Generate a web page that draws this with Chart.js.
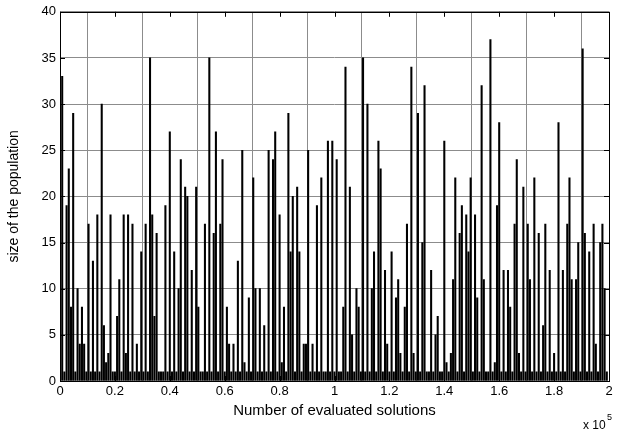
<!DOCTYPE html>
<html>
<head>
<meta charset="utf-8">
<script src="https://cdn.jsdelivr.net/npm/chart.js@4/dist/chart.umd.min.js"></script>
<style>
  html, body { margin: 0; padding: 0; background: #fff; }
  #wrap { width: 622px; height: 433px; }
</style>
</head>
<body>
<div id="wrap"><canvas id="popChart" width="622" height="433"></canvas></div>
<script>
// --- data: population size sampled every EVAL_STEP evaluations ---
const EVAL_STEP = 800;
const popSize = [
  1,33,1,19,23,8,29,1,10,4,8,4,1,17,1,13,1,18,1,30,6,2,3,18,1,
  1,7,11,1,18,3,18,1,17,1,4,1,14,1,17,1,35,18,7,16,1,1,1,19,1,
  27,1,14,1,10,24,1,21,20,1,12,1,21,8,1,1,17,1,35,1,16,27,1,17,24,
  1,8,4,1,4,1,13,1,25,2,1,9,1,22,10,1,10,1,6,1,25,1,24,27,1,
  18,2,8,1,29,14,20,1,21,14,1,4,4,25,1,4,1,19,1,22,1,1,26,1,26,
  1,24,1,1,8,34,1,21,5,1,10,8,1,35,1,30,1,10,14,1,26,23,1,12,4,
  1,14,1,9,11,3,1,8,17,1,34,3,1,29,1,15,32,1,1,12,1,5,7,1,1,
  26,2,1,3,11,22,1,16,19,1,18,14,22,1,18,9,1,32,11,1,1,37,1,2,19,
  28,1,12,1,12,8,1,17,24,3,1,21,1,17,11,1,22,1,16,1,6,17,1,12,1,
  3,1,28,1,12,1,17,22,11,1,11,15,1,36,16,1,14,1,17,4,1,15,17,10,1
];
const xTicks = [0, 20000, 40000, 60000, 80000, 100000, 120000, 140000, 160000, 180000, 200000];
const yTicks = [0, 5, 10, 15, 20, 25, 30, 35, 40];

const FONT = "'Liberation Sans', Arial, sans-serif";

// MATLAB-ish frame: box around the axes + inward tick marks + exponent label
const matlabFrame = {
  id: "matlabFrame",
  afterDraw(chart) {
    const { ctx, chartArea: a, scales } = chart;
    ctx.save();
    ctx.strokeStyle = "#000";
    ctx.lineWidth = 1;
    ctx.strokeRect(Math.round(a.left) + 0.5, Math.round(a.top) + 0.5,
      Math.round(a.right - a.left), Math.round(a.bottom - a.top));
    ctx.beginPath();
    xTicks.forEach((v) => {
      const px = Math.round(scales.x.getPixelForValue(v)) + 0.5;
      ctx.moveTo(px, a.top); ctx.lineTo(px, a.top + 5);
      ctx.moveTo(px, a.bottom); ctx.lineTo(px, a.bottom - 5);
    });
    yTicks.forEach((v) => {
      const py = Math.round(scales.y.getPixelForValue(v)) + 0.5;
      ctx.moveTo(a.left, py); ctx.lineTo(a.left + 5, py);
      ctx.moveTo(a.right, py); ctx.lineTo(a.right - 5, py);
    });
    ctx.stroke();
    // "x 10^5"
    ctx.fillStyle = "#000";
    ctx.textBaseline = "alphabetic";
    ctx.font = "12px " + FONT;
    ctx.fillText("x 10", 583, 429);
    ctx.font = "9px " + FONT;
    ctx.fillText("5", 607, 420);
    ctx.restore();
  },
};

new Chart(document.getElementById("popChart"), {
  type: "bar",
  data: {
    datasets: [
      {
        label: "size of the population",
        data: popSize.map((v, i) => ({ x: i * EVAL_STEP, y: v })),
        backgroundColor: "#000",
        borderWidth: 0,
        barThickness: 1.4,
      },
    ],
  },
  options: {
    responsive: false,
    animation: false,
    devicePixelRatio: 1,
    layout: { padding: { top: 11, right: 13, left: 0, bottom: 0 } },
    plugins: { legend: { display: false }, tooltip: { enabled: false } },
    scales: {
      x: {
        type: "linear",
        min: 0,
        max: 200000,
        offset: false,
        afterBuildTicks: (s) => { s.ticks = xTicks.map((v) => ({ value: v })); },
        afterFit: (s) => { s.height = 52; },
        ticks: {
          color: "#000",
          font: { family: FONT, size: 13 },
          padding: 3,
          maxRotation: 0,
          callback: (v) => String(Math.round(v / 10000) / 10),
        },
        grid: { color: "#8c8c8c", drawTicks: false },
        border: { display: false },
        title: {
          display: true,
          text: "Number of evaluated solutions",
          color: "#000",
          font: { family: FONT, size: 15 },
          padding: { top: 1, bottom: 13 },
        },
      },
      y: {
        min: 0,
        max: 40,
        afterBuildTicks: (s) => { s.ticks = yTicks.map((v) => ({ value: v })); },
        afterFit: (s) => { s.width = 60; },
        ticks: {
          color: "#000",
          font: { family: FONT, size: 13 },
          padding: 4,
        },
        grid: { color: "#8c8c8c", drawTicks: false },
        border: { display: false },
        title: {
          display: true,
          text: "size of the population",
          color: "#000",
          font: { family: FONT, size: 14 },
          padding: { top: 6, bottom: 0 },
        },
      },
    },
  },
  plugins: [matlabFrame],
});
</script>
</body>
</html>
